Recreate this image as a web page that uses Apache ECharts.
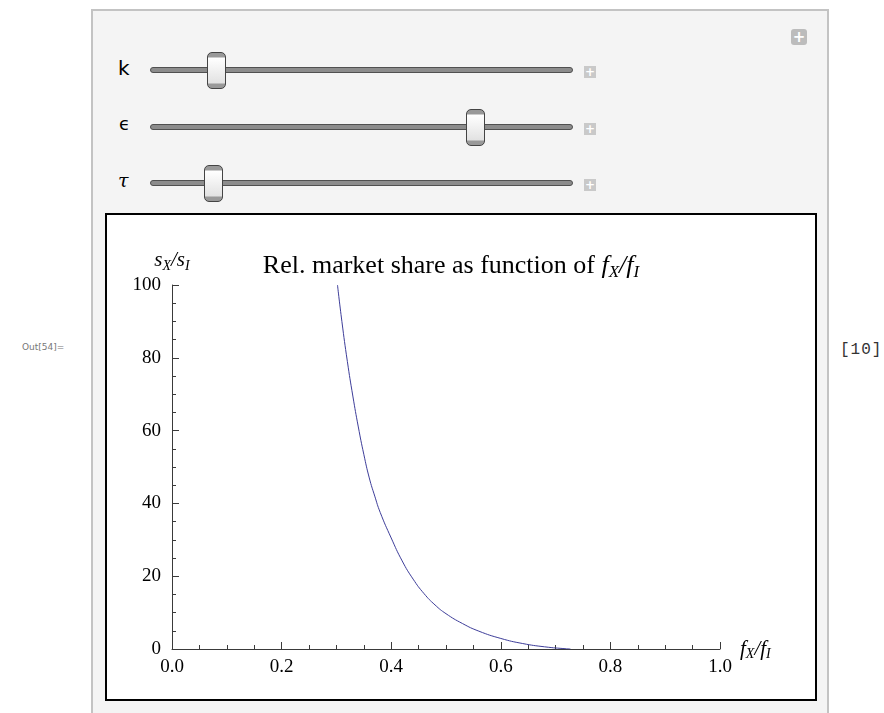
<!DOCTYPE html>
<html>
<head>
<meta charset="utf-8">
<title>Rel. market share</title>
<script src="https://cdn.jsdelivr.net/npm/echarts@6/dist/echarts.min.js"></script>
<style>
  body { margin: 0; background: #fff; width: 884px; height: 713px; overflow: hidden; position: relative; }
  #panel { position: absolute; left: 91px; top: 9px; width: 734px; height: 720px;
           background: #f4f4f4; border: 2px solid #c3c3c3; }
  #plotbox { position: absolute; left: 105px; top: 213px; width: 708px; height: 484px;
             background: #fff; border: 2px solid #000; }
  #main { position: absolute; left: 0; top: 0; width: 884px; height: 713px; }
  .lbl { position: absolute; font-size: 20px; color: #000; }
  .track { position: absolute; left: 150px; width: 421px; height: 4px; background: #8c8c8c;
           border: 1px solid #505050; border-radius: 3px; }
  .thumb { position: absolute; width: 17px; height: 35px; border: 1px solid #444; border-radius: 5px;
           background: linear-gradient(to bottom, #999 0, #999 4px, #fff 5px, #e2e2e2 30px, #999 31px, #999 100%); }
  .plus { position: absolute; left: 584px; width: 12px; height: 12px; background: #c9c9c9;
          color: #fff; font: bold 12px/12px "DejaVu Sans"; text-align: center; }
</style>
</head>
<body>
<div id="panel"></div>
<div style="position:absolute;left:791px;top:29px;width:16px;height:16px;background:#bcbcbc;border-radius:3px;color:#fff;font:bold 15px/16px 'DejaVu Sans';text-align:center;">+</div>

<div class="lbl" style="left:118px;top:56px;font-family:'DejaVu Sans';">k</div>
<div class="track" style="top:67px;"></div>
<div class="thumb" style="left:207px;top:52px;"></div>
<div class="plus" style="top:66px;">+</div>

<div class="lbl" style="left:119px;top:113px;font-family:'DejaVu Sans';font-size:18px;">ϵ</div>
<div class="track" style="top:124px;"></div>
<div class="thumb" style="left:466px;top:109px;"></div>
<div class="plus" style="top:123px;">+</div>

<div class="lbl" style="left:118px;top:169px;font-family:'DejaVu Serif';font-style:italic;font-size:19px;">τ</div>
<div class="track" style="top:180px;"></div>
<div class="thumb" style="left:204px;top:165px;"></div>
<div class="plus" style="top:179px;">+</div>

<div id="plotbox"></div>
<div style="position:absolute;left:22px;top:342px;font:9px 'DejaVu Sans';color:#777;">Out[54]=</div>
<div style="position:absolute;left:840px;top:341px;font:16px 'Liberation Mono';color:#333;letter-spacing:1px;">[10]</div>

<div id="main"></div>

<script type="text/javascript">
  // curve values
  var xVals = [0.302, 0.31, 0.32, 0.33, 0.34, 0.35, 0.36, 0.37, 0.38, 0.40, 0.42, 0.44,
               0.46, 0.48, 0.50, 0.53, 0.56, 0.60, 0.64, 0.68, 0.72, 0.727];
  var yVals = [100, 90, 79, 69.5, 61, 53.5, 47, 42, 37.5, 30.5, 24.2, 19.2,
               15.2, 12.1, 9.7, 7, 4.9, 2.9, 1.5, 0.6, 0.05, 0];
  var xTickLabels = ['0.0', '0.2', '0.4', '0.6', '0.8', '1.0'];
  var yTickLabels = ['0', '20', '40', '60', '80', '100'];

  var serif = "'Liberation Serif', 'Times New Roman', serif";

  function mathRich(size, subSize, subDrop) {
    return {
      i: { fontFamily: serif, fontStyle: 'italic', fontWeight: 'normal', fontSize: size, color: '#000' },
      s: { fontFamily: serif, fontStyle: 'italic', fontWeight: 'normal', fontSize: subSize, color: '#000',
           padding: [subDrop, 0, 0, 0] }
    };
  }

  var myChart = echarts.init(document.getElementById('main'), null, { renderer: 'canvas' });

  var titleRich = mathRich(26, 17, 12);
  titleRich.a = { fontFamily: serif, fontWeight: 'normal', fontSize: 26, color: '#000' };

  var option = {
    animation: false,
    backgroundColor: 'transparent',
    title: {
      left: 446, top: 247, textAlign: 'center',
      text: '{a|Rel. market share as function of }{i|f}{s|X}{i|/f}{s|I}',
      textStyle: { fontWeight: 'normal', rich: titleRich }
    },
    grid: { left: 172, right: 164, top: 285, bottom: 64 },
    xAxis: {
      type: 'value', min: 0, max: 1, interval: 0.2,
      name: '{i|f}{s|X}{i|/f}{s|I}', nameLocation: 'end', nameGap: 20,
      nameTextStyle: { rich: mathRich(21, 14, 11) },
      axisLine: { lineStyle: { color: '#3a3a3a', width: 1 } },
      axisTick: { inside: true, length: 7, lineStyle: { color: '#3a3a3a' } },
      minorTick: { show: true, splitNumber: 4, length: 4, lineStyle: { color: '#3a3a3a' } },
      splitLine: { show: false },
      axisLabel: {
        fontFamily: serif, fontSize: 19, color: '#000', margin: 9,
        formatter: function (v) { return xTickLabels[Math.round(v / 0.2)]; }
      }
    },
    yAxis: {
      type: 'value', min: 0, max: 100, interval: 20,
      name: '{i|s}{s|X}{i|/s}{s|I}', nameLocation: 'end', nameGap: 12,
      nameTextStyle: { align: 'center', rich: mathRich(21, 14, 11) },
      axisLine: { show: true, lineStyle: { color: '#3a3a3a', width: 1 } },
      axisTick: { show: true, inside: true, length: 7, lineStyle: { color: '#3a3a3a' } },
      minorTick: { show: true, splitNumber: 4, length: 4, lineStyle: { color: '#3a3a3a' } },
      splitLine: { show: false },
      axisLabel: {
        fontFamily: serif, fontSize: 19, color: '#000', margin: 11,
        formatter: function (v) { return yTickLabels[Math.round(v / 20)]; }
      }
    },
    series: [{
      type: 'line',
      data: xVals.map(function (x, i) { return [x, yVals[i]]; }),
      smooth: 0.5,
      showSymbol: false,
      lineStyle: { color: '#3d3d99', width: 1 }
    }]
  };
  myChart.setOption(option);
</script>
</body>
</html>
